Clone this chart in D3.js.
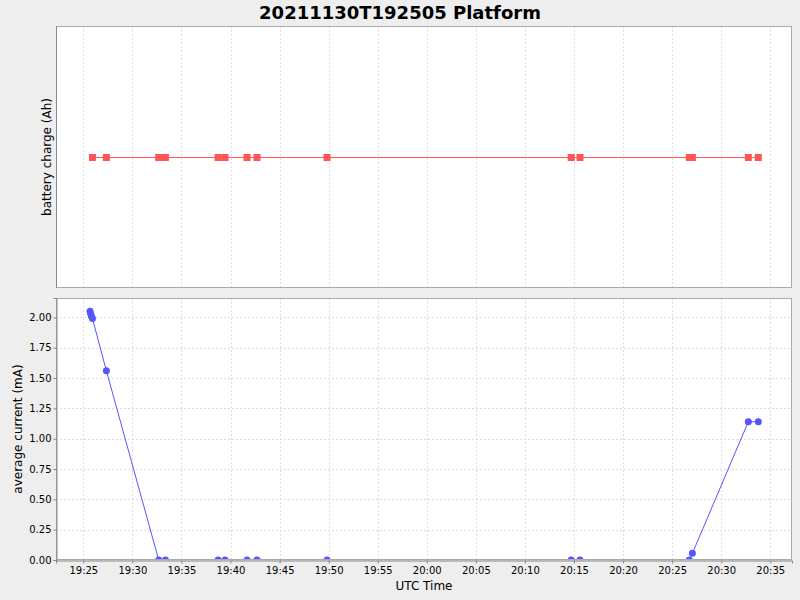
<!DOCTYPE html>
<html><head><meta charset="utf-8">
<script src="https://cdn.jsdelivr.net/npm/d3@7"></script>
<style>
html,body{margin:0;padding:0;background:#eeeeee;}
svg{display:block;font-family:"DejaVu Sans",sans-serif;}
</style></head>
<body>
<svg id="c" width="800" height="600"></svg>
<script>
// ---- data ----
const chartTitle = "20211130T192505 Platform";
const currentTimes = ["19:25:41","19:25:45","19:25:50","19:25:56","19:27:21","19:32:41","19:33:22","19:38:44","19:39:26","19:41:41","19:42:42","19:49:50","20:14:43","20:15:37","20:26:45","20:27:04","20:32:46","20:33:47"];
const currentValues = [2.05,2.03,2.01,1.99,1.56,0,0,0,0,0,0,0,0,0,0,0.055,1.14,1.14];
const chargeTimes = ["19:25:56","19:27:21","19:32:41","19:33:22","19:38:44","19:39:26","19:41:41","19:42:42","19:49:50","20:14:43","20:15:37","20:26:45","20:27:04","20:32:46","20:33:47"];
const chargeValues = [0,0,0,0,0,0,0,0,0,0,0,0,0,0,0];
const currentTicks = [0,0.25,0.5,0.75,1,1.25,1.5,1.75,2];
const timeDomain = ["19:22:13","20:37:13"];
const day = "2021-11-30";

const parseT = s => new Date(day + "T" + s + "Z");
const svg = d3.select("#c");
const L = 56, R = 792;
const top1 = 26, bot1 = 288, top2 = 298, bot2 = 560;
const blue = "#5555ff", red = "#ff5555";

const x = d3.scaleUtc().domain(timeDomain.map(parseT)).range([L, R]);
const xTicks = d3.utcMinute.every(5).range(parseT("19:25:00"), parseT("20:36:00"));
const yTop = d3.scaleLinear().domain([-1, 1]).range([bot1 + 0.5, top1 + 0.5]);
const yBot = d3.scaleLinear().domain([0, 2.16]).range([bot2, top2]);

// title
svg.append("text").attr("x", 400).attr("y", 19).attr("text-anchor", "middle")
  .attr("font-weight", "bold").attr("font-size", 18).attr("fill", "#000").text(chartTitle);

function panel(t, b, id) {
  svg.append("rect").attr("x", L).attr("y", t).attr("width", R - L).attr("height", b - t).attr("fill", "#fff");
  svg.append("clipPath").attr("id", id).append("rect").attr("x", L).attr("y", t).attr("width", R - L).attr("height", b - t);
  const g = svg.append("g");
  g.selectAll("line.vg").data(xTicks).join("line")
    .attr("x1", d => Math.round(x(d)) + 0.5).attr("x2", d => Math.round(x(d)) + 0.5)
    .attr("y1", t).attr("y2", b).attr("stroke", "#dddddd").attr("stroke-dasharray", "2,2");
  return g;
}

// ---- top panel ----
panel(top1, bot1, "clip1");
const g1 = svg.append("g").attr("clip-path", "url(#clip1)");
const topData = chargeTimes.map((s, i) => ({t: parseT(s), v: chargeValues[i]}));
g1.append("path").datum(topData)
  .attr("d", d3.line().x(d => x(d.t)).y(d => yTop(d.v)))
  .attr("fill", "none").attr("stroke", red).attr("stroke-width", 1);
g1.selectAll("rect.pt").data(topData).join("rect")
  .attr("x", d => x(d.t) - 3.5).attr("y", d => yTop(d.v) - 3.5).attr("width", 7).attr("height", 7).attr("fill", red);
svg.append("rect").attr("x", L + 0.5).attr("y", top1 + 0.5).attr("width", R - L - 1).attr("height", bot1 - top1 - 1)
  .attr("fill", "none").attr("stroke", "#aaaaaa");
svg.append("line").attr("x1", L + 0.5).attr("x2", L + 0.5).attr("y1", top1).attr("y2", bot1).attr("stroke", "#888888");
svg.append("text").attr("transform", `translate(51,${(top1 + bot1) / 2}) rotate(-90)`)
  .attr("text-anchor", "middle").attr("font-size", 12).attr("fill", "#000").text("battery charge (Ah)");

// ---- bottom panel ----
const g2b = panel(top2, bot2, "clip2");
g2b.selectAll("line.hg").data(currentTicks).join("line")
  .attr("x1", L).attr("x2", R).attr("y1", d => Math.round(yBot(d)) + 0.5).attr("y2", d => Math.round(yBot(d)) + 0.5)
  .attr("stroke", "#dddddd").attr("stroke-dasharray", "2,2");
const g2 = svg.append("g").attr("clip-path", "url(#clip2)");
const botData = currentTimes.map((s, i) => ({t: parseT(s), v: currentValues[i]}));
g2.append("path").datum(botData)
  .attr("d", d3.line().x(d => x(d.t)).y(d => yBot(d.v)))
  .attr("fill", "none").attr("stroke", blue).attr("stroke-width", 1);
g2.selectAll("circle").data(botData).join("circle")
  .attr("cx", d => x(d.t)).attr("cy", d => yBot(d.v)).attr("r", 3.5).attr("fill", blue);
svg.append("rect").attr("x", L + 0.5).attr("y", top2 + 0.5).attr("width", R - L - 1).attr("height", bot2 - top2 - 1)
  .attr("fill", "none").attr("stroke", "#aaaaaa");

// axes
const yAxis = d3.axisLeft(yBot).tickValues(currentTicks).tickFormat(d3.format(".2f")).tickSize(3).tickPadding(2);
const ya = svg.append("g").attr("transform", `translate(${L + 0.5},0)`).call(yAxis);
const xAxis = d3.axisBottom(x).tickValues(xTicks).tickFormat(d3.utcFormat("%H:%M")).tickSize(3).tickPadding(3);
const xa = svg.append("g").attr("transform", `translate(0,${bot2 + 0.5})`).call(xAxis);
[ya, xa].forEach(a => {
  a.selectAll(".domain").attr("stroke", "#888888");
  a.selectAll(".tick line").attr("stroke", "#888888");
  a.selectAll(".tick text").attr("font-size", 10).attr("fill", "#000").attr("font-family", "DejaVu Sans");
});
svg.append("text").attr("transform", `translate(22,${(top2 + bot2) / 2}) rotate(-90)`)
  .attr("text-anchor", "middle").attr("font-size", 12).attr("fill", "#000").text("average current (mA)");
svg.append("text").attr("x", (L + R) / 2).attr("y", 590).attr("text-anchor", "middle")
  .attr("font-size", 12).attr("fill", "#000").text("UTC Time");
</script>
</body></html>
